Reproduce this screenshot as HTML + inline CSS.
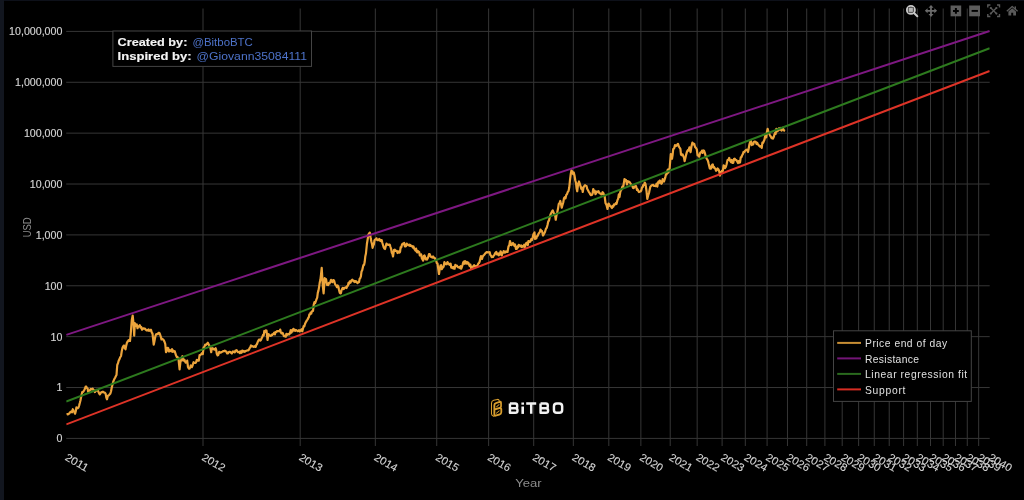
<!DOCTYPE html><html><head><meta charset="utf-8"><style>
html,body{margin:0;padding:0;background:#000;width:1024px;height:500px;overflow:hidden}
svg{display:block;position:absolute;left:0;top:0;will-change:transform}
text{font-family:"Liberation Sans",sans-serif}
</style></head><body>
<svg width="1024" height="500" viewBox="0 0 1024 500">
<rect x="0" y="0" width="1024" height="500" fill="#000"/>
<rect x="0" y="0" width="1024" height="1" fill="#0d1019"/>
<rect x="0" y="0" width="4" height="500" fill="#12161f"/>
<line x1="66.24" y1="438.40" x2="989.70" y2="438.40" stroke="#363636" stroke-width="1"/>
<line x1="66.24" y1="387.52" x2="989.70" y2="387.52" stroke="#363636" stroke-width="1"/>
<line x1="66.24" y1="336.65" x2="989.70" y2="336.65" stroke="#363636" stroke-width="1"/>
<line x1="66.24" y1="285.77" x2="989.70" y2="285.77" stroke="#363636" stroke-width="1"/>
<line x1="66.24" y1="234.90" x2="989.70" y2="234.90" stroke="#363636" stroke-width="1"/>
<line x1="66.24" y1="184.03" x2="989.70" y2="184.03" stroke="#363636" stroke-width="1"/>
<line x1="66.24" y1="133.15" x2="989.70" y2="133.15" stroke="#363636" stroke-width="1"/>
<line x1="66.24" y1="82.28" x2="989.70" y2="82.28" stroke="#363636" stroke-width="1"/>
<line x1="66.24" y1="31.40" x2="989.70" y2="31.40" stroke="#363636" stroke-width="1"/>
<line x1="203.00" y1="8.5" x2="203.00" y2="446.0" stroke="#363636" stroke-width="1"/>
<line x1="300.20" y1="8.5" x2="300.20" y2="446.0" stroke="#363636" stroke-width="1"/>
<line x1="375.34" y1="8.5" x2="375.34" y2="446.0" stroke="#363636" stroke-width="1"/>
<line x1="436.73" y1="8.5" x2="436.73" y2="446.0" stroke="#363636" stroke-width="1"/>
<line x1="488.63" y1="8.5" x2="488.63" y2="446.0" stroke="#363636" stroke-width="1"/>
<line x1="533.70" y1="8.5" x2="533.70" y2="446.0" stroke="#363636" stroke-width="1"/>
<line x1="573.34" y1="8.5" x2="573.34" y2="446.0" stroke="#363636" stroke-width="1"/>
<line x1="608.80" y1="8.5" x2="608.80" y2="446.0" stroke="#363636" stroke-width="1"/>
<line x1="640.87" y1="8.5" x2="640.87" y2="446.0" stroke="#363636" stroke-width="1"/>
<line x1="670.23" y1="8.5" x2="670.23" y2="446.0" stroke="#363636" stroke-width="1"/>
<line x1="697.16" y1="8.5" x2="697.16" y2="446.0" stroke="#363636" stroke-width="1"/>
<line x1="722.10" y1="8.5" x2="722.10" y2="446.0" stroke="#363636" stroke-width="1"/>
<line x1="745.31" y1="8.5" x2="745.31" y2="446.0" stroke="#363636" stroke-width="1"/>
<line x1="767.08" y1="8.5" x2="767.08" y2="446.0" stroke="#363636" stroke-width="1"/>
<line x1="787.48" y1="8.5" x2="787.48" y2="446.0" stroke="#363636" stroke-width="1"/>
<line x1="806.71" y1="8.5" x2="806.71" y2="446.0" stroke="#363636" stroke-width="1"/>
<line x1="824.90" y1="8.5" x2="824.90" y2="446.0" stroke="#363636" stroke-width="1"/>
<line x1="842.20" y1="8.5" x2="842.20" y2="446.0" stroke="#363636" stroke-width="1"/>
<line x1="858.62" y1="8.5" x2="858.62" y2="446.0" stroke="#363636" stroke-width="1"/>
<line x1="874.27" y1="8.5" x2="874.27" y2="446.0" stroke="#363636" stroke-width="1"/>
<line x1="889.22" y1="8.5" x2="889.22" y2="446.0" stroke="#363636" stroke-width="1"/>
<line x1="903.58" y1="8.5" x2="903.58" y2="446.0" stroke="#363636" stroke-width="1"/>
<line x1="917.31" y1="8.5" x2="917.31" y2="446.0" stroke="#363636" stroke-width="1"/>
<line x1="930.50" y1="8.5" x2="930.50" y2="446.0" stroke="#363636" stroke-width="1"/>
<line x1="943.20" y1="8.5" x2="943.20" y2="446.0" stroke="#363636" stroke-width="1"/>
<line x1="955.47" y1="8.5" x2="955.47" y2="446.0" stroke="#363636" stroke-width="1"/>
<line x1="967.27" y1="8.5" x2="967.27" y2="446.0" stroke="#363636" stroke-width="1"/>
<line x1="978.67" y1="8.5" x2="978.67" y2="446.0" stroke="#363636" stroke-width="1"/>
<text x="62.4" y="442.25" text-anchor="end" font-size="10.75" fill="#d4d4d4" stroke="#d4d4d4" stroke-width="0.15" textLength="5.92" lengthAdjust="spacingAndGlyphs">0</text>
<text x="62.4" y="391.38" text-anchor="end" font-size="10.75" fill="#d4d4d4" stroke="#d4d4d4" stroke-width="0.15" textLength="5.92" lengthAdjust="spacingAndGlyphs">1</text>
<text x="62.4" y="340.50" text-anchor="end" font-size="10.75" fill="#d4d4d4" stroke="#d4d4d4" stroke-width="0.15" textLength="11.85" lengthAdjust="spacingAndGlyphs">10</text>
<text x="62.4" y="289.62" text-anchor="end" font-size="10.75" fill="#d4d4d4" stroke="#d4d4d4" stroke-width="0.15" textLength="17.77" lengthAdjust="spacingAndGlyphs">100</text>
<text x="62.4" y="238.75" text-anchor="end" font-size="10.75" fill="#d4d4d4" stroke="#d4d4d4" stroke-width="0.15" textLength="26.66" lengthAdjust="spacingAndGlyphs">1,000</text>
<text x="62.4" y="187.88" text-anchor="end" font-size="10.75" fill="#d4d4d4" stroke="#d4d4d4" stroke-width="0.15" textLength="32.58" lengthAdjust="spacingAndGlyphs">10,000</text>
<text x="62.4" y="137.00" text-anchor="end" font-size="10.75" fill="#d4d4d4" stroke="#d4d4d4" stroke-width="0.15" textLength="38.51" lengthAdjust="spacingAndGlyphs">100,000</text>
<text x="62.4" y="86.12" text-anchor="end" font-size="10.75" fill="#d4d4d4" stroke="#d4d4d4" stroke-width="0.15" textLength="47.39" lengthAdjust="spacingAndGlyphs">1,000,000</text>
<text x="62.4" y="35.25" text-anchor="end" font-size="10.75" fill="#d4d4d4" stroke="#d4d4d4" stroke-width="0.15" textLength="53.32" lengthAdjust="spacingAndGlyphs">10,000,000</text>
<text transform="translate(64.24,459.4) rotate(30)" font-size="10.8" fill="#d4d4d4" stroke="#d4d4d4" stroke-width="0.12" textLength="25.0" lengthAdjust="spacingAndGlyphs">2011</text>
<text transform="translate(201.00,459.4) rotate(30)" font-size="10.8" fill="#d4d4d4" stroke="#d4d4d4" stroke-width="0.12" textLength="25.0" lengthAdjust="spacingAndGlyphs">2012</text>
<text transform="translate(298.20,459.4) rotate(30)" font-size="10.8" fill="#d4d4d4" stroke="#d4d4d4" stroke-width="0.12" textLength="25.0" lengthAdjust="spacingAndGlyphs">2013</text>
<text transform="translate(373.34,459.4) rotate(30)" font-size="10.8" fill="#d4d4d4" stroke="#d4d4d4" stroke-width="0.12" textLength="25.0" lengthAdjust="spacingAndGlyphs">2014</text>
<text transform="translate(434.73,459.4) rotate(30)" font-size="10.8" fill="#d4d4d4" stroke="#d4d4d4" stroke-width="0.12" textLength="25.0" lengthAdjust="spacingAndGlyphs">2015</text>
<text transform="translate(486.63,459.4) rotate(30)" font-size="10.8" fill="#d4d4d4" stroke="#d4d4d4" stroke-width="0.12" textLength="25.0" lengthAdjust="spacingAndGlyphs">2016</text>
<text transform="translate(531.70,459.4) rotate(30)" font-size="10.8" fill="#d4d4d4" stroke="#d4d4d4" stroke-width="0.12" textLength="25.0" lengthAdjust="spacingAndGlyphs">2017</text>
<text transform="translate(571.34,459.4) rotate(30)" font-size="10.8" fill="#d4d4d4" stroke="#d4d4d4" stroke-width="0.12" textLength="25.0" lengthAdjust="spacingAndGlyphs">2018</text>
<text transform="translate(606.80,459.4) rotate(30)" font-size="10.8" fill="#d4d4d4" stroke="#d4d4d4" stroke-width="0.12" textLength="25.0" lengthAdjust="spacingAndGlyphs">2019</text>
<text transform="translate(638.87,459.4) rotate(30)" font-size="10.8" fill="#d4d4d4" stroke="#d4d4d4" stroke-width="0.12" textLength="25.0" lengthAdjust="spacingAndGlyphs">2020</text>
<text transform="translate(668.23,459.4) rotate(30)" font-size="10.8" fill="#d4d4d4" stroke="#d4d4d4" stroke-width="0.12" textLength="25.0" lengthAdjust="spacingAndGlyphs">2021</text>
<text transform="translate(695.16,459.4) rotate(30)" font-size="10.8" fill="#d4d4d4" stroke="#d4d4d4" stroke-width="0.12" textLength="25.0" lengthAdjust="spacingAndGlyphs">2022</text>
<text transform="translate(720.10,459.4) rotate(30)" font-size="10.8" fill="#d4d4d4" stroke="#d4d4d4" stroke-width="0.12" textLength="25.0" lengthAdjust="spacingAndGlyphs">2023</text>
<text transform="translate(743.31,459.4) rotate(30)" font-size="10.8" fill="#d4d4d4" stroke="#d4d4d4" stroke-width="0.12" textLength="25.0" lengthAdjust="spacingAndGlyphs">2024</text>
<text transform="translate(765.08,459.4) rotate(30)" font-size="10.8" fill="#d4d4d4" stroke="#d4d4d4" stroke-width="0.12" textLength="25.0" lengthAdjust="spacingAndGlyphs">2025</text>
<text transform="translate(785.48,459.4) rotate(30)" font-size="10.8" fill="#d4d4d4" stroke="#d4d4d4" stroke-width="0.12" textLength="25.0" lengthAdjust="spacingAndGlyphs">2026</text>
<text transform="translate(804.71,459.4) rotate(30)" font-size="10.8" fill="#d4d4d4" stroke="#d4d4d4" stroke-width="0.12" textLength="25.0" lengthAdjust="spacingAndGlyphs">2027</text>
<text transform="translate(822.90,459.4) rotate(30)" font-size="10.8" fill="#d4d4d4" stroke="#d4d4d4" stroke-width="0.12" textLength="25.0" lengthAdjust="spacingAndGlyphs">2028</text>
<text transform="translate(840.20,459.4) rotate(30)" font-size="10.8" fill="#d4d4d4" stroke="#d4d4d4" stroke-width="0.12" textLength="25.0" lengthAdjust="spacingAndGlyphs">2029</text>
<text transform="translate(856.62,459.4) rotate(30)" font-size="10.8" fill="#d4d4d4" stroke="#d4d4d4" stroke-width="0.12" textLength="25.0" lengthAdjust="spacingAndGlyphs">2030</text>
<text transform="translate(872.27,459.4) rotate(30)" font-size="10.8" fill="#d4d4d4" stroke="#d4d4d4" stroke-width="0.12" textLength="25.0" lengthAdjust="spacingAndGlyphs">2031</text>
<text transform="translate(887.22,459.4) rotate(30)" font-size="10.8" fill="#d4d4d4" stroke="#d4d4d4" stroke-width="0.12" textLength="25.0" lengthAdjust="spacingAndGlyphs">2032</text>
<text transform="translate(901.58,459.4) rotate(30)" font-size="10.8" fill="#d4d4d4" stroke="#d4d4d4" stroke-width="0.12" textLength="25.0" lengthAdjust="spacingAndGlyphs">2033</text>
<text transform="translate(915.31,459.4) rotate(30)" font-size="10.8" fill="#d4d4d4" stroke="#d4d4d4" stroke-width="0.12" textLength="25.0" lengthAdjust="spacingAndGlyphs">2034</text>
<text transform="translate(928.50,459.4) rotate(30)" font-size="10.8" fill="#d4d4d4" stroke="#d4d4d4" stroke-width="0.12" textLength="25.0" lengthAdjust="spacingAndGlyphs">2035</text>
<text transform="translate(941.20,459.4) rotate(30)" font-size="10.8" fill="#d4d4d4" stroke="#d4d4d4" stroke-width="0.12" textLength="25.0" lengthAdjust="spacingAndGlyphs">2036</text>
<text transform="translate(953.47,459.4) rotate(30)" font-size="10.8" fill="#d4d4d4" stroke="#d4d4d4" stroke-width="0.12" textLength="25.0" lengthAdjust="spacingAndGlyphs">2037</text>
<text transform="translate(965.27,459.4) rotate(30)" font-size="10.8" fill="#d4d4d4" stroke="#d4d4d4" stroke-width="0.12" textLength="25.0" lengthAdjust="spacingAndGlyphs">2038</text>
<text transform="translate(976.67,459.4) rotate(30)" font-size="10.8" fill="#d4d4d4" stroke="#d4d4d4" stroke-width="0.12" textLength="25.0" lengthAdjust="spacingAndGlyphs">2039</text>
<text transform="translate(987.70,459.4) rotate(30)" font-size="10.8" fill="#d4d4d4" stroke="#d4d4d4" stroke-width="0.12" textLength="25.0" lengthAdjust="spacingAndGlyphs">2040</text>
<text transform="translate(31.0,227.3) rotate(-90)" text-anchor="middle" font-size="10.8" fill="#8c8c8c" textLength="20.0" lengthAdjust="spacingAndGlyphs">USD</text>
<text x="528.5" y="486.8" text-anchor="middle" font-size="11.0" fill="#8c8c8c" textLength="26.4" lengthAdjust="spacingAndGlyphs">Year</text>
<defs><clipPath id="pc"><rect x="66.24" y="8.5" width="923.46" height="437.5"/></clipPath></defs>
<g clip-path="url(#pc)">
<polyline fill="none" stroke="#eca43c" stroke-width="2.2" stroke-linejoin="round" points="66.50,414.60 67.17,414.22 67.85,414.45 68.53,413.79 69.20,413.70 69.85,412.61 70.50,411.90 71.20,411.60 71.90,412.40 72.80,409.20 73.70,411.00 74.40,412.22 75.10,413.70 75.75,411.21 76.40,407.40 77.08,408.10 77.75,408.30 78.42,407.57 79.10,405.60 79.80,403.05 80.50,400.20 81.35,395.70 82.25,392.10 82.92,391.89 83.60,391.20 84.30,389.96 85.00,388.50 85.65,386.59 86.30,386.70 86.97,388.12 87.65,388.50 88.10,391.70 88.70,391.54 89.30,391.07 89.90,390.30 90.80,388.82 91.70,389.40 92.60,388.58 93.50,389.90 94.17,390.45 94.85,392.10 95.45,391.08 96.05,390.82 96.65,389.90 97.33,390.30 98.00,390.75 98.90,392.87 99.80,394.35 100.70,392.83 101.60,392.10 102.28,392.07 102.95,391.65 103.62,392.35 104.30,392.55 104.97,392.81 105.65,393.90 106.33,397.67 107.00,399.30 107.90,395.70 108.80,395.37 109.70,394.35 110.38,393.53 111.05,391.20 111.72,387.66 112.40,384.90 113.08,382.18 113.75,380.40 114.42,378.83 115.10,377.70 115.80,376.28 116.50,375.00 117.25,365.00 118.00,363.15 118.75,360.50 119.50,359.16 120.25,357.21 121.00,356.00 121.75,351.26 122.50,347.75 123.25,346.29 124.00,345.50 124.75,348.16 125.50,349.25 126.25,345.36 127.00,342.50 127.75,341.53 128.50,340.25 129.25,340.90 130.00,341.00 130.75,333.50 131.80,320.00 132.70,315.50 133.60,324.50 134.20,335.75 134.80,323.00 135.70,326.00 136.75,324.50 137.50,328.25 138.25,326.27 139.00,326.28 139.75,325.25 140.50,327.61 141.25,326.93 142.00,329.75 142.75,328.79 143.50,328.25 144.25,328.68 145.00,328.71 145.75,329.75 146.50,330.33 147.25,330.21 148.00,330.50 148.60,329.38 149.20,330.75 149.80,330.50 150.40,330.53 151.00,329.75 151.75,332.59 152.50,333.50 153.70,344.75 154.30,341.99 154.90,338.83 155.50,335.75 156.25,334.13 157.00,334.25 157.75,334.16 158.50,332.84 159.25,332.75 160.00,334.32 160.75,336.50 161.50,339.50 162.25,338.89 163.00,339.34 163.75,340.25 164.50,341.76 165.25,344.00 166.00,352.25 166.75,350.88 167.50,347.75 168.25,348.23 169.00,351.50 169.60,350.05 170.20,350.76 170.80,351.14 171.40,350.10 172.00,349.25 172.40,351.80 173.20,350.49 174.00,351.80 174.80,351.26 175.60,354.20 176.20,355.85 176.80,357.00 177.60,357.09 178.40,358.20 179.60,369.40 180.40,362.20 181.60,359.00 182.40,356.20 183.20,360.60 183.80,359.42 184.40,359.80 185.60,362.60 186.40,362.29 187.20,360.60 188.00,367.00 188.80,368.58 189.60,368.60 190.20,367.11 190.80,365.40 192.00,367.00 192.80,364.77 193.60,362.20 194.40,362.91 195.20,363.00 196.00,362.54 196.80,359.80 197.47,360.51 198.13,360.70 198.80,360.60 199.60,355.00 200.40,354.99 201.20,354.20 202.00,353.07 202.80,354.20 203.60,347.40 204.40,346.93 205.20,344.60 205.87,344.96 206.53,344.32 207.20,343.60 207.87,342.77 208.53,344.34 209.20,345.40 209.80,347.21 210.40,347.80 211.20,352.20 211.80,348.88 212.40,348.20 213.20,348.67 214.00,349.40 214.80,349.55 215.60,348.20 216.20,350.04 216.80,353.80 217.60,355.40 218.40,354.79 219.20,351.80 220.00,352.61 220.80,352.60 221.60,351.96 222.40,351.77 223.20,351.00 224.00,351.28 224.80,350.60 225.60,351.29 226.40,351.80 227.20,353.46 228.00,353.40 228.80,352.10 229.60,351.80 230.40,352.09 231.20,353.00 231.80,353.48 232.40,352.42 233.00,351.44 233.60,351.80 234.20,352.21 234.80,352.31 235.40,350.56 236.00,350.60 236.67,350.09 237.33,351.56 238.00,352.20 238.60,352.05 239.20,351.89 239.80,353.15 240.40,351.26 241.00,352.00 241.60,352.76 242.20,350.63 242.80,350.80 243.40,351.68 244.00,351.00 244.60,351.77 245.20,351.46 245.80,350.97 246.40,350.71 247.00,350.50 247.67,350.28 248.33,350.28 249.00,349.50 249.67,348.03 250.33,347.05 251.00,345.50 251.67,346.28 252.33,346.17 253.00,346.50 253.67,346.93 254.33,346.61 255.00,346.00 255.67,346.90 256.33,344.92 257.00,344.00 257.67,342.17 258.33,340.71 259.00,339.50 259.67,339.66 260.33,340.56 261.00,340.00 261.67,338.07 262.33,336.97 263.00,335.00 263.67,335.45 264.33,330.97 265.00,332.00 265.75,330.36 266.50,330.50 267.50,340.00 268.50,334.00 269.17,334.86 269.83,335.65 270.50,336.00 271.12,335.69 271.75,334.66 272.38,335.02 273.00,334.00 273.62,333.73 274.25,332.58 274.88,334.45 275.50,332.00 276.20,332.09 276.90,331.15 277.60,331.32 278.30,331.02 279.00,331.00 279.60,331.35 280.20,329.59 280.80,331.81 281.40,333.42 282.00,333.00 282.62,332.80 283.25,334.45 283.88,336.03 284.50,336.00 285.12,336.45 285.75,336.72 286.38,333.86 287.00,335.00 287.60,334.31 288.20,333.92 288.80,334.31 289.40,334.29 290.00,333.00 290.67,330.21 291.33,332.73 292.00,330.06 292.67,331.23 293.33,328.85 294.00,329.50 294.60,329.85 295.20,330.89 295.80,329.98 296.40,330.46 297.00,330.50 297.67,331.08 298.33,330.45 299.00,330.18 299.67,331.44 300.33,330.96 301.00,330.00 301.67,329.25 302.33,331.29 303.00,328.50 303.67,326.04 304.33,326.27 305.00,324.00 305.67,322.44 306.33,321.44 307.00,320.00 307.60,319.49 308.20,317.99 308.80,317.24 309.40,314.31 310.00,314.50 310.60,312.52 311.20,313.62 311.80,311.58 312.40,310.83 313.00,311.00 313.70,304.85 314.41,302.17 315.12,303.08 315.84,301.21 316.55,299.15 317.18,297.56 317.82,292.65 318.45,290.60 319.08,287.10 319.72,282.62 320.35,280.10 321.02,274.61 321.70,267.80 322.80,285.80 323.60,293.40 324.70,278.20 325.38,280.07 326.05,279.20 327.00,284.90 327.63,283.49 328.27,284.99 328.90,283.00 329.61,283.38 330.32,281.90 331.04,279.86 331.75,281.10 332.38,282.00 333.02,280.35 333.65,280.10 334.28,281.17 334.92,283.65 335.55,284.90 336.26,285.74 336.98,287.17 337.69,285.43 338.40,286.80 339.03,290.00 339.67,292.51 340.30,293.40 340.93,293.12 341.57,290.11 342.20,288.70 342.91,287.79 343.62,289.10 344.34,288.05 345.05,287.70 345.76,287.34 346.48,288.02 347.19,286.04 347.90,285.80 348.53,282.79 349.17,283.55 349.80,281.29 350.43,282.73 351.07,281.33 351.70,280.10 352.33,279.72 352.97,280.42 353.60,281.35 354.23,280.84 354.87,282.13 355.50,281.10 356.21,281.27 356.93,282.49 357.64,283.13 358.35,282.00 358.98,282.20 359.62,278.86 360.25,278.20 360.88,276.47 361.52,271.42 362.15,270.60 362.78,267.71 363.42,265.00 364.05,264.90 364.68,262.08 365.32,256.17 365.95,253.50 366.90,244.00 367.67,239.24 368.45,234.50 369.12,233.37 369.80,232.60 370.70,238.30 371.33,241.44 371.97,244.09 372.60,247.80 373.23,245.48 373.87,244.40 374.50,240.20 375.13,239.61 375.77,239.43 376.40,238.30 377.20,240.18 378.00,240.20 378.60,239.97 379.20,238.94 379.80,239.56 380.40,241.05 381.00,240.00 381.67,240.12 382.33,242.77 383.00,245.00 383.67,247.28 384.33,248.41 385.00,249.00 385.75,246.26 386.50,243.50 387.17,244.76 387.83,244.66 388.50,245.00 389.17,244.55 389.83,244.85 390.50,247.00 391.12,248.77 391.75,252.63 392.38,253.58 393.00,256.50 394.00,250.00 394.75,249.64 395.50,251.00 396.17,250.93 396.83,250.86 397.50,253.00 398.12,252.64 398.75,251.36 399.38,252.60 400.00,252.00 400.67,247.22 401.33,247.32 402.00,244.50 402.75,243.63 403.50,244.00 404.17,242.95 404.83,246.37 405.50,246.50 406.12,245.86 406.75,243.57 407.38,244.52 408.00,245.00 408.62,245.28 409.25,244.55 409.88,245.76 410.50,245.00 411.10,246.03 411.70,246.25 412.30,246.22 412.90,247.51 413.50,246.50 414.17,248.48 414.83,249.61 415.50,250.50 416.10,248.64 416.70,251.79 417.30,252.40 417.90,251.01 418.50,251.50 419.17,252.03 419.83,255.43 420.50,254.50 421.17,254.41 421.83,258.30 422.50,259.50 423.17,260.59 423.83,255.91 424.50,255.50 425.12,257.19 425.75,259.39 426.38,258.38 427.00,259.50 427.67,258.23 428.33,256.74 429.00,254.00 429.67,254.09 430.33,255.91 431.00,257.00 431.67,257.13 432.33,257.50 433.00,256.50 433.62,257.34 434.25,258.05 434.88,258.09 435.50,260.00 436.17,260.80 436.83,263.24 437.50,263.50 438.25,268.85 439.00,274.00 439.75,268.88 440.50,265.50 441.17,265.14 441.83,269.24 442.50,267.00 443.12,267.42 443.75,266.16 444.38,262.07 445.00,264.00 445.62,264.14 446.25,263.50 446.88,264.24 447.50,262.00 448.12,263.19 448.75,263.43 449.38,264.79 450.00,265.00 450.62,263.73 451.25,267.58 451.88,267.59 452.50,268.00 453.20,266.87 453.90,268.59 454.60,268.70 455.30,264.93 456.00,266.00 456.75,265.55 457.50,266.50 458.12,267.18 458.75,267.44 459.38,267.20 460.00,268.00 460.62,266.22 461.25,268.74 461.88,266.85 462.50,265.00 463.12,262.73 463.75,261.57 464.38,263.81 465.00,261.00 465.67,262.39 466.33,263.61 467.00,262.00 467.67,263.70 468.33,262.73 469.00,264.50 469.67,265.95 470.33,264.52 471.00,268.00 471.62,266.70 472.25,266.94 472.88,267.06 473.50,266.00 474.10,265.22 474.70,265.87 475.30,266.50 475.90,266.41 476.50,266.00 477.12,265.94 477.75,264.73 478.38,263.40 479.00,263.00 479.67,261.52 480.33,258.39 481.00,256.00 482.00,259.00 482.67,256.76 483.33,255.65 484.00,255.00 484.62,254.25 485.25,253.38 485.88,252.92 486.50,252.00 487.12,252.12 487.75,252.44 488.38,252.23 489.00,252.50 489.67,252.11 490.33,254.97 491.00,255.50 491.67,257.17 492.33,256.98 493.00,257.00 493.67,255.62 494.33,255.16 495.00,253.50 495.62,252.67 496.25,251.89 496.88,254.32 497.50,254.50 498.12,253.46 498.75,255.33 499.38,253.29 500.00,254.50 500.60,251.25 501.20,252.73 501.80,255.37 502.40,252.87 503.00,253.00 503.60,251.16 504.20,251.54 504.80,252.69 505.40,252.36 506.00,251.50 506.75,251.95 507.50,252.00 508.50,246.50 509.25,245.44 510.00,241.00 511.00,245.00 511.67,245.14 512.33,243.64 513.00,243.00 513.67,244.18 514.33,245.89 515.00,244.50 516.00,249.00 516.75,248.87 517.50,246.50 518.12,247.43 518.75,244.75 519.38,245.58 520.00,245.50 520.60,246.44 521.20,245.36 521.80,247.04 522.40,246.59 523.00,246.00 523.60,246.55 524.20,244.75 524.80,247.46 525.40,245.44 526.00,243.50 526.60,242.75 527.20,242.61 527.80,245.03 528.40,241.10 529.00,241.00 529.60,241.82 530.20,241.75 530.80,240.41 531.40,238.83 532.00,240.00 532.75,237.22 533.50,234.00 534.50,232.50 535.00,239.00 535.67,238.42 536.33,238.34 537.00,236.00 537.67,235.93 538.33,234.03 539.00,233.00 539.75,232.26 540.50,229.50 541.25,230.89 542.00,231.00 543.00,235.50 543.67,234.58 544.33,233.23 545.00,232.00 545.25,231.00 546.00,228.71 546.75,227.82 547.50,225.00 548.25,221.48 549.00,220.50 549.75,216.74 550.50,214.50 551.25,213.01 552.00,211.50 552.75,210.48 553.50,212.47 554.25,213.75 555.00,214.31 555.75,219.75 556.50,215.17 557.25,212.25 558.00,208.82 558.75,204.00 559.50,203.19 560.25,201.00 561.00,204.31 561.75,207.75 562.50,204.84 563.25,202.50 564.00,198.13 564.75,197.25 565.50,198.38 566.25,195.00 567.00,194.14 567.75,192.00 568.50,191.11 569.25,187.50 570.00,180.00 570.75,174.03 571.50,170.25 572.25,171.89 573.00,174.00 573.75,172.47 574.50,175.50 575.25,180.23 576.00,183.00 576.60,188.30 577.20,191.25 578.10,183.99 579.00,181.50 579.75,183.68 580.50,186.00 581.25,188.80 582.00,187.77 582.75,192.00 583.50,187.43 584.25,186.15 585.00,185.25 585.75,185.70 586.50,185.96 587.25,189.00 588.00,190.29 588.75,191.82 589.50,192.75 590.25,194.31 591.00,195.15 591.75,195.00 592.50,193.93 593.25,189.00 594.00,192.25 594.75,190.81 595.50,194.25 596.25,192.85 597.00,191.38 597.75,192.00 598.50,191.10 599.25,192.89 600.00,193.50 600.67,193.67 601.33,194.47 602.00,194.00 602.62,192.18 603.25,192.88 603.88,194.72 604.50,195.00 605.50,203.00 606.50,205.00 607.50,209.00 608.50,203.50 609.25,204.49 610.00,206.00 610.67,206.26 611.33,207.25 612.00,208.00 612.67,205.83 613.33,206.60 614.00,204.50 614.62,204.85 615.25,204.13 615.88,203.23 616.50,204.00 617.50,200.00 618.17,198.77 618.83,194.36 619.50,197.00 620.25,192.19 621.00,190.00 621.67,189.38 622.33,186.65 623.00,188.00 623.75,183.77 624.50,179.00 625.25,179.70 626.00,180.00 627.00,184.50 627.75,181.13 628.50,181.50 629.17,181.83 629.83,182.41 630.50,183.50 631.25,184.88 632.00,185.00 633.00,188.00 633.75,188.09 634.50,186.50 635.25,186.20 636.00,186.00 637.00,190.00 637.67,189.50 638.33,191.13 639.00,192.00 639.75,191.66 640.50,191.50 641.25,190.52 642.00,187.50 642.67,187.07 643.33,184.83 644.00,185.00 644.75,182.62 645.50,184.00 646.50,191.00 647.30,199.00 648.15,195.48 649.00,193.00 649.67,189.63 650.33,186.78 651.00,186.00 651.75,185.34 652.50,185.00 653.25,184.81 654.00,186.00 654.67,185.82 655.33,186.07 656.00,185.00 656.67,183.58 657.33,186.62 658.00,182.50 658.67,181.38 659.33,182.73 660.00,180.50 660.67,181.51 661.33,183.76 662.00,183.00 662.67,179.11 663.33,180.93 664.00,181.50 664.67,179.35 665.33,177.36 666.00,174.00 666.60,174.40 667.80,169.60 668.40,172.56 669.00,169.26 669.60,168.40 670.80,154.00 671.40,158.25 672.00,158.80 672.60,155.11 673.20,149.20 674.10,148.48 675.00,145.00 675.90,146.04 676.80,145.60 677.40,144.47 678.00,143.80 678.90,146.64 679.80,148.00 680.40,148.82 681.00,154.53 681.60,155.20 682.50,154.31 683.40,156.40 684.00,157.57 684.60,161.13 685.20,158.80 686.10,154.87 687.00,151.60 687.80,150.23 688.60,150.52 689.40,147.40 690.00,149.84 690.60,152.20 691.50,146.20 692.40,142.60 693.00,143.39 693.60,144.27 694.20,143.80 695.10,146.96 696.00,148.00 696.80,149.24 697.60,155.43 698.40,155.20 699.20,156.71 700.00,153.23 700.80,152.20 701.40,152.16 702.00,150.65 702.60,152.99 703.20,150.40 704.10,150.83 705.00,153.40 705.90,157.13 706.80,158.80 707.40,159.67 708.00,160.94 708.60,163.60 709.80,168.40 710.40,168.60 711.00,168.65 711.60,165.68 712.20,164.80 712.80,164.48 713.40,167.49 714.00,166.88 714.60,168.16 715.20,168.40 716.00,170.75 716.80,170.15 717.60,168.40 718.50,169.39 719.40,172.00 720.00,175.55 720.60,172.01 721.20,173.22 721.80,170.99 722.40,172.00 723.00,169.93 723.60,165.27 724.20,166.00 725.00,168.20 725.80,166.94 726.60,164.20 727.50,160.19 728.40,160.00 729.20,157.93 730.00,160.60 731.00,162.00 731.75,159.94 732.50,163.00 733.25,162.86 734.00,159.00 734.67,158.60 735.33,159.57 736.00,160.00 736.67,160.50 737.33,161.81 738.00,163.00 738.67,161.09 739.33,162.71 740.00,162.50 740.75,157.45 741.50,157.00 742.17,155.22 742.83,154.16 743.50,152.00 744.25,152.25 745.00,151.00 745.75,150.13 746.50,150.00 747.25,149.54 748.00,152.00 748.75,148.26 749.50,144.00 750.25,141.71 751.00,141.00 751.75,145.05 752.50,144.00 753.17,144.42 753.83,142.15 754.50,141.50 755.17,141.56 755.83,142.02 756.50,144.00 757.17,142.79 757.83,144.09 758.50,145.00 759.17,145.82 759.83,146.52 760.50,146.00 761.12,146.19 761.75,147.97 762.38,142.58 763.00,143.00 763.75,141.27 764.50,139.50 765.50,134.00 766.25,137.40 767.00,131.50 767.67,128.89 768.33,131.63 769.00,133.00 769.67,134.62 770.33,135.93 771.00,137.00 771.67,138.18 772.33,137.60 773.00,138.50 773.67,137.28 774.33,134.92 775.00,133.00 775.67,133.80 776.33,128.80 777.00,131.50 777.62,129.50 778.25,130.50 778.88,128.25 779.50,129.50 780.25,127.97 781.00,130.00 781.67,130.57 782.33,127.89 783.00,128.50 784.00,130.50 785.00,131.00"/>
<line x1="66.24" y1="334.9" x2="989.7" y2="31.0" stroke="#7e1882" stroke-width="2"/>
<line x1="66.24" y1="401.6" x2="989.7" y2="48.2" stroke="#2d7a1e" stroke-width="2"/>
<line x1="66.24" y1="424.4" x2="989.7" y2="71.0" stroke="#de3327" stroke-width="2"/>
</g>
<rect x="112.9" y="31.0" width="198.6" height="35.4" fill="#000" stroke="#444" stroke-width="1"/>
<text x="117.6" y="45.8" font-size="10.6" font-weight="bold" fill="#f4f4f4" stroke="#f4f4f4" stroke-width="0.15" textLength="69.8" lengthAdjust="spacingAndGlyphs">Created by:</text>
<text x="192.4" y="45.8" font-size="10.6" fill="#4d72c8" textLength="60.4" lengthAdjust="spacingAndGlyphs">@BitboBTC</text>
<text x="117.6" y="59.6" font-size="10.6" font-weight="bold" fill="#f4f4f4" stroke="#f4f4f4" stroke-width="0.15" textLength="74" lengthAdjust="spacingAndGlyphs">Inspired by:</text>
<text x="196.6" y="59.6" font-size="10.6" fill="#4d72c8" textLength="110.4" lengthAdjust="spacingAndGlyphs">@Giovann35084111</text>
<rect x="833.5" y="330.8" width="137.8" height="70.6" fill="#000" stroke="#444" stroke-width="1"/>
<line x1="837.2" y1="342.90" x2="861" y2="342.90" stroke="#c88e34" stroke-width="2"/>
<text x="865" y="347.20" font-size="10.3" fill="#e0e0e0" textLength="82.10000000000001" lengthAdjust="spacing">Price end of day</text>
<line x1="837.2" y1="358.40" x2="861" y2="358.40" stroke="#731577" stroke-width="2"/>
<text x="865" y="362.70" font-size="10.3" fill="#e0e0e0" textLength="53.9" lengthAdjust="spacing">Resistance</text>
<line x1="837.2" y1="373.90" x2="861" y2="373.90" stroke="#2a6a1e" stroke-width="2"/>
<text x="865" y="378.20" font-size="10.3" fill="#e0e0e0" textLength="102.2" lengthAdjust="spacing">Linear regression fit</text>
<line x1="837.2" y1="389.40" x2="861" y2="389.40" stroke="#d72d23" stroke-width="2"/>
<text x="865" y="393.70" font-size="10.3" fill="#e0e0e0" textLength="40.4" lengthAdjust="spacing">Support</text>
<path d="M493.6,416.3 Q491.5,415.5 491.5,413.8 V403.2 Q491.5,400.8 493.7,400.2 L497.4,399.4 Q498.9,399.2 499.3,400.9" fill="none" stroke="#d89e2e" stroke-width="1.05" stroke-linecap="round" stroke-linejoin="round"/>
<g transform="translate(493.9,0) skewY(-17) translate(-493.9,0)">
<path fill-rule="evenodd" fill="#d89e2e" d="M493.4,405.0 Q493.4,402.7 495.7,402.7 H499.4 Q501.9,402.7 501.9,405.2 V408.7 Q501.9,409.6 501.4,410.0 Q502.2,410.5 502.2,411.8 V414.8 Q502.2,417.2 499.6,417.2 H495.8 Q493.4,417.2 493.4,414.9 Z M495.3,405.5 Q495.3,404.6 496.2,404.6 H499.1 Q500.2,404.6 500.2,405.7 V407.9 Q500.2,408.7 499.4,408.7 H495.3 Z M495.3,410.8 H499.6 Q500.4,410.8 500.4,411.7 V414.3 Q500.4,415.3 499.4,415.3 H496.2 Q495.3,415.3 495.3,414.4 Z"/>
<path d="M496.5,407.6 L499.0,406.2 M496.5,413.9 L499.2,412.5" stroke="#d89e2e" stroke-width="0.95" stroke-linecap="round"/>
</g>
<path d="M509.95,403.55 H515.2499999999999 Q517.15,403.55 517.15,405.35 V406.75 Q517.15,408.15 515.2499999999999,408.15 H509.95 M515.2499999999999,408.15 Q517.4499999999999,408.15 517.4499999999999,409.95 V410.95 Q517.4499999999999,412.75 515.2499999999999,412.75 H509.95 V403.55" fill="none" stroke="#f2f2f2" stroke-width="2.45" stroke-linejoin="round"/>
<rect x="521.4" y="402.5" width="2.6" height="2.2" fill="#f2f2f2"/>
<rect x="521.4" y="406.5" width="2.6" height="7.4" fill="#f2f2f2"/>
<path d="M526.2,403.55 H536.2 M531.2,403.55 V413.8" fill="none" stroke="#f2f2f2" stroke-width="2.45"/>
<path d="M540.55,403.55 H545.8499999999999 Q547.75,403.55 547.75,405.35 V406.75 Q547.75,408.15 545.8499999999999,408.15 H540.55 M545.8499999999999,408.15 Q548.05,408.15 548.05,409.95 V410.95 Q548.05,412.75 545.8499999999999,412.75 H540.55 V403.55" fill="none" stroke="#f2f2f2" stroke-width="2.45" stroke-linejoin="round"/>
<rect x="553.95" y="403.55" width="8.2" height="9.2" rx="2.8" fill="none" stroke="#f2f2f2" stroke-width="2.45"/>
<circle cx="910.9" cy="9.9" r="4.0" fill="none" stroke="#c8c8c8" stroke-width="1.9"/>
<rect x="908.5" y="7.5" width="4.8" height="4.8" fill="#b4b4b4" stroke="#5e5e5e" stroke-width="1.0"/>
<line x1="914.0" y1="13.0" x2="917.3" y2="16.2" stroke="#c8c8c8" stroke-width="2.0" stroke-linecap="round"/>
<path d="M926.5,10.8 H935.4 M931,6.6 V15.3" stroke="#6a6a6a" stroke-width="1.7"/>
<path d="M924.8,10.8 L927.6,8.3 V13.3 Z M937.1,10.8 L934.3,8.3 V13.3 Z M931,4.9 L928.5,7.7 H933.5 Z M931,16.9 L928.5,14.1 H933.5 Z" fill="#6a6a6a"/>
<rect x="950.6" y="5.5" width="10.6" height="10.8" fill="#5c5c5c"/>
<path d="M953,10.9 H958.8 M955.9,7.9 V13.8" stroke="#000" stroke-width="2.0"/>
<rect x="969.2" y="5.5" width="10.8" height="10.8" fill="#5c5c5c"/>
<path d="M971.6,10.9 H977.9" stroke="#000" stroke-width="1.9"/>
<path d="M987.8,7.4 V5 H990.4 M997,5 H999.5 V7.4 M987.8,14 V16.5 H990.4 M997,16.5 H999.5 V14" fill="none" stroke="#5a5a5a" stroke-width="1.4"/>
<path d="M990.6,7.8 L996.6,13.8 M996.6,7.8 L990.6,13.8" stroke="#5a5a5a" stroke-width="1.3"/>
<g fill="#5a5a5a"><circle cx="990.8" cy="8" r="1.1"/><circle cx="996.4" cy="8" r="1.1"/><circle cx="990.8" cy="13.6" r="1.1"/><circle cx="996.4" cy="13.6" r="1.1"/></g>
<path d="M1006.8,11.2 L1012.2,6.4 L1017.6,11.2" fill="none" stroke="#5a5a5a" stroke-width="1.3" stroke-linejoin="round"/>
<path d="M1008.4,11.4 L1012.2,8.2 L1016,11.4 V15.6 H1013.2 V12.8 H1011.2 V15.6 H1008.4 Z" fill="#5a5a5a"/>
<rect x="1014.6" y="6.4" width="1.4" height="3.2" fill="#5a5a5a"/>
</svg></body></html>
